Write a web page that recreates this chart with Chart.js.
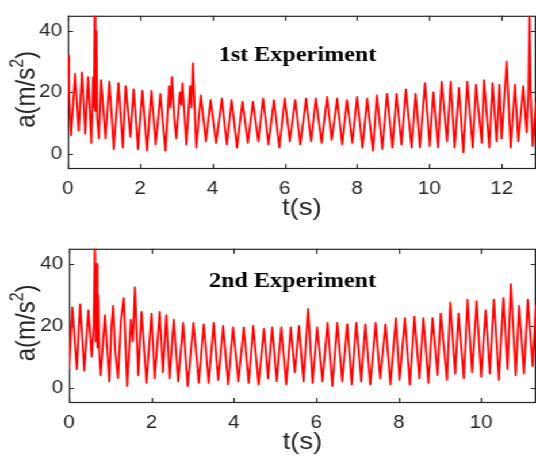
<!DOCTYPE html>
<html>
<head>
<meta charset="utf-8">
<script src="https://cdn.jsdelivr.net/npm/chart.js@4.4.1/dist/chart.umd.min.js"></script>
<style>
  body { margin: 0; background: #fff; }
  #wrap { position: absolute; left: 0; top: 0; width: 466px; height: 467px;
          transform: scaleX(1.1502); transform-origin: 0 0; }
  canvas { position: absolute; left: 0; }
</style>
</head>
<body>
<div id="wrap">
  <canvas id="topChart" width="466" height="233" style="top:0"></canvas>
  <canvas id="botChart" width="466" height="234" style="top:233px"></canvas>
</div>
<script>
// tick labels
const xTicksTop = [0, 2, 4, 6, 8, 10, 12];
const xTicksBot = [0, 2, 4, 6, 8, 10];
const yTicks = [0, 20, 40];

// 1st experiment: time (s) and acceleration (m/s^2)
const tTop = [
  0, 0.03, 0.09, 0.20, 0.30, 0.39, 0.48, 0.56, 0.65, 0.70,
  0.72, 0.745, 0.76, 0.79, 0.81, 0.86, 0.92, 1.04, 1.15, 1.27,
  1.40, 1.52, 1.60, 1.73, 1.82, 1.94, 2.06, 2.19, 2.31, 2.43,
  2.56, 2.70, 2.80, 2.84, 2.88, 2.94, 3.00, 3.10, 3.14, 3.17,
  3.28, 3.38, 3.42, 3.46, 3.55, 3.68, 3.82, 3.95, 4.10, 4.26,
  4.40, 4.53, 4.68, 4.83, 4.98, 5.12, 5.27, 5.40, 5.55, 5.70,
  5.85, 6.00, 6.14, 6.29, 6.43, 6.59, 6.73, 6.86, 7.02, 7.17,
  7.30, 7.45, 7.59, 7.72, 7.87, 8.00, 8.15, 8.28, 8.44, 8.55,
  8.70, 8.83, 8.98, 9.09, 9.23, 9.35, 9.51, 9.62, 9.74, 9.88,
  10.01, 10.11, 10.24, 10.34, 10.49, 10.59, 10.70, 10.82, 10.94, 11.05,
  11.20, 11.29, 11.45, 11.51, 11.66, 11.75, 11.86, 11.94, 12.00, 12.14,
  12.25, 12.37, 12.46, 12.60, 12.69, 12.74, 12.77, 12.80, 12.86, 12.95
];
const aTop = [
  32, 20, 6, 26, 7.5, 26.5, 6.5, 25, 3.5, 25,
  15, 48, 14, 40, 12, 5, 24, 5, 23.5, 1.5,
  23, 2, 22, 5.5, 21, 1.5, 20.5, 1, 20.5, 3,
  19.5, 1, 22, 15, 25, 12, 5, 20, 16, 23,
  3, 22, 15, 29.5, 2, 19, 4, 17.5, 3.5, 18,
  3, 17.5, 2, 17, 3.5, 17, 4, 18, 3, 17.5,
  2, 18, 4, 17.5, 3, 18, 4, 18, 3.5, 18.5,
  4.5, 18, 3, 17.5, 3.5, 18.5, 2, 18, 1, 19,
  1.5, 19.5, 2, 19.5, 3, 21, 2, 19.5, 2, 23,
  2.5, 20, 2, 23.5, 4, 23.5, 2, 21.5, 0.5, 23.5,
  2, 22.5, 3.5, 24, 2, 23, 4, 22.5, 5, 30,
  2, 22.5, 4, 22, 7, 20, 48, 20, 2.5, 16.5
];

// 2nd experiment
const tBot = [
  0.00, 0.08, 0.19, 0.27, 0.37, 0.47, 0.55, 0.60, 0.63, 0.65,
  0.67, 0.69, 0.71, 0.74, 0.77, 0.87, 0.98, 1.03, 1.07, 1.12,
  1.19, 1.26, 1.33, 1.41, 1.50, 1.55, 1.60, 1.68, 1.76, 1.88,
  2.00, 2.08, 2.20, 2.28, 2.36, 2.44, 2.54, 2.65, 2.77, 2.88,
  3.02, 3.15, 3.27, 3.39, 3.51, 3.62, 3.74, 3.86, 3.98, 4.11,
  4.24, 4.36, 4.47, 4.60, 4.73, 4.83, 4.93, 5.04, 5.15, 5.27,
  5.38, 5.48, 5.58, 5.69, 5.80, 5.91, 6.02, 6.15, 6.27, 6.39,
  6.51, 6.63, 6.75, 6.86, 6.97, 7.09, 7.19, 7.31, 7.44, 7.55,
  7.68, 7.80, 7.93, 8.02, 8.15, 8.27, 8.38, 8.50, 8.60, 8.72,
  8.82, 8.94, 9.02, 9.17, 9.25, 9.37, 9.45, 9.58, 9.67, 9.78,
  9.89, 10.00, 10.11, 10.21, 10.31, 10.43, 10.54, 10.64, 10.72, 10.84,
  10.92, 11.04, 11.13, 11.25, 11.33
];
const aBot = [
  6, 26, 6, 27, 5.5, 25, 10, 20, 48, 15,
  40, 13, 30, 10, 4, 23.5, 2, 20, 26.5, 12,
  3, 22, 29, 0.5, 22, 15, 32.5, 4, 24.5, 1.5,
  24, 3, 24.5, 5, 23.5, 3, 22, 2, 21, 0.5,
  21, 1.5, 20.5, 1.5, 21, 2.5, 20, 1, 19.5, 2,
  19.5, 1.5, 20, 1, 19, 3, 19.5, 2, 19.5, 1,
  19.5, 5, 20, 2, 25.5, 1.5, 19.5, 2, 21, 0.5,
  21, 2, 20.5, 1, 21, 2, 20.5, 1, 21, 3,
  20.5, 1, 22.5, 2.5, 22.5, 1, 23, 3, 22.5, 1.5,
  22.5, 4, 24, 2.5, 27.5, 4.5, 24, 3, 28.5, 5,
  28, 3.5, 25, 4.5, 28.5, 2.5, 29, 6, 33.5, 4,
  26.5, 4.5, 28.5, 7, 27
];

const axisColor = '#262626';
const sans = '"Liberation Sans", Arial, sans-serif';

// box with inward ticks on all sides + texts inside the canvas
const framePlugin = {
  id: 'frame',
  beforeDatasetsDraw(chart, args, o) {
    const {ctx, chartArea: a, scales} = chart;
    ctx.save();
    ctx.strokeStyle = axisColor;
    ctx.lineWidth = 1.2;
    ctx.strokeRect(a.left + 0.5, a.top + 0.5, a.right - a.left - 1, a.bottom - a.top - 1);
    ctx.beginPath();
    o.xTicks.forEach(v => {
      const px = Math.round(scales.x.getPixelForValue(v)) + 0.5;
      ctx.moveTo(px, a.bottom); ctx.lineTo(px, a.bottom - 5);
      ctx.moveTo(px, a.top); ctx.lineTo(px, a.top + 5);
    });
    yTicks.forEach(v => {
      const py = Math.round(scales.y.getPixelForValue(v)) + 0.5;
      ctx.moveTo(a.left, py); ctx.lineTo(a.left + 4.5, py);
      ctx.moveTo(a.right, py); ctx.lineTo(a.right - 4.5, py);
    });
    ctx.stroke();

    ctx.fillStyle = '#000';
    ctx.font = 'bold 21px "Liberation Serif", "Times New Roman", serif';
    ctx.textAlign = 'center';
    ctx.textBaseline = 'alphabetic';
    ctx.fillText(o.title, o.titleX, o.titleY);

    // x axis label
    ctx.fillStyle = axisColor;
    ctx.font = '24px ' + sans;
    ctx.fillText('t(s)', (a.left + a.right) / 2, a.bottom + 46);

    // y axis label with superscript
    ctx.translate(29.5, (a.top + a.bottom) / 2 - 3);
    ctx.rotate(-Math.PI / 2);
    ctx.textAlign = 'left';
    const p1 = 'a(m/s', p3 = ')';
    ctx.font = '24px ' + sans;
    const w1 = ctx.measureText(p1).width, w3 = ctx.measureText(p3).width;
    ctx.font = '16px ' + sans;
    const w2 = ctx.measureText('2').width;
    let x = -(w1 + w2 + w3) / 2;
    ctx.font = '24px ' + sans;
    ctx.fillText(p1, x, 0);
    x += w1;
    ctx.font = '16px ' + sans;
    ctx.fillText('2', x, -10);
    x += w2;
    ctx.font = '24px ' + sans;
    ctx.fillText(p3, x, 0);
    ctx.restore();
  }
};

function makeChart(id, times, values, xMax, xTicks, leftW, topPad, title, titleX, titleY) {
  const pts = times.map((t, i) => ({x: t, y: values[i]}));
  return new Chart(document.getElementById(id), {
    type: 'line',
    data: {
      datasets: [{
        data: pts,
        borderColor: '#ff0000',
        borderWidth: 1.8,
        borderJoinStyle: 'round',
        pointRadius: 0,
        tension: 0,
        fill: false
      }]
    },
    options: {
      responsive: false,
      animation: false,
      layout: { padding: { top: topPad, left: 0, right: 0, bottom: 0 } },
      plugins: {
        legend: { display: false },
        tooltip: { enabled: false },
        frame: { xTicks: xTicks, title: title, titleX: titleX, titleY: titleY }
      },
      scales: {
        x: {
          type: 'linear',
          min: 0,
          max: xMax,
          grid: { display: false, drawTicks: false },
          border: { display: false },
          afterBuildTicks: s => { s.ticks = xTicks.map(v => ({value: v})); },
          afterFit: s => { s.height = 64; },
          ticks: { padding: 9, maxRotation: 0, autoSkip: false, color: axisColor,
                   font: { family: sans, size: 18 } }
        },
        y: {
          min: -5,
          max: 45,
          grid: { display: false, drawTicks: false },
          border: { display: false },
          afterBuildTicks: s => { s.ticks = yTicks.map(v => ({value: v})); },
          afterFit: s => { s.width = leftW; },
          ticks: { padding: 5, color: axisColor, font: { family: sans, size: 18 } }
        }
      }
    },
    plugins: [framePlugin]
  });
}

makeChart('topChart', tTop, aTop, 12.95, xTicksTop, 59, 7, '1st Experiment', 258.7, 61);
makeChart('botChart', tBot, aBot, 11.33, xTicksBot, 60, 8, '2nd Experiment', 254.3, 53.7);
</script>
</body>
</html>
